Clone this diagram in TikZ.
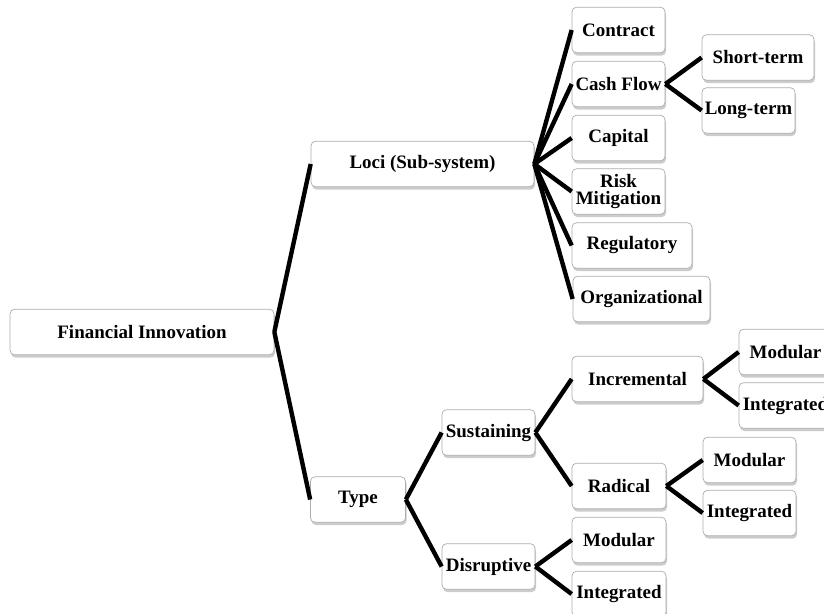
\documentclass[tikz,border=0pt]{standalone}
\usepackage{fontspec}
\setmainfont{Liberation Serif}
\usetikzlibrary{shadows}
\begin{document}
\begin{tikzpicture}[x=0.02cm,y=-0.02cm,
	box/.style={draw=gray!65,rounded corners=2.5pt,fill=white,inner sep=1pt,minimum height=0.91cm,
		font=\fontsize{10.8}{11.5}\selectfont\bfseries,align=center,
		drop shadow={shadow xshift=0.6pt,shadow yshift=-1.6pt,opacity=0.4,fill=gray}},
	link/.style={black,line width=2.5pt}]
	\useasboundingbox (0,0) rectangle (824,613);
	\clip (0,0) rectangle (824,613);
	\node[box,minimum width=5.28cm] (fin) at (142,332) {Financial Innovation};
	\node[box,minimum width=4.46cm] (loci) at (422.5,164) {Loci (Sub-system)};
	\node[box,minimum width=1.90cm] (type) at (358,499.5) {Type};
	\node[box,minimum width=1.86cm] (contract) at (618.5,30) {Contract};
	\node[box,minimum width=1.86cm] (cashflow) at (618.5,84) {Cash Flow};
	\node[box,minimum width=2.24cm] (short) at (758,57.5) {Short-term};
	\node[box,minimum width=1.86cm] (long) at (748.5,110.5) {Long-term};
	\node[box,minimum width=1.86cm] (capital) at (618.5,138) {Capital};
	\node[box,minimum width=1.86cm] (risk) at (618.5,191.5) {Risk\\[-2pt]Mitigation};
	\node[box,minimum width=2.40cm] (regul) at (632,245.5) {Regulatory};
	\node[box,minimum width=2.74cm] (organ) at (641.5,299) {Organizational};
	\node[box,minimum width=1.86cm] (sust) at (488.5,432.5) {Sustaining};
	\node[box,minimum width=1.86cm] (disr) at (488.5,566.5) {Disruptive};
	\node[box,minimum width=2.62cm] (incr) at (637.5,379) {Incremental};
	\node[box,minimum width=1.88cm] (radic) at (619,486) {Radical};
	\node[box,minimum width=1.86cm] (incrmod) at (785.5,352) {Modular};
	\node[box,minimum width=1.86cm] (incrint) at (785.5,405.5) {Integrated};
	\node[box,minimum width=1.86cm] (radicmod) at (749.5,460) {Modular};
	\node[box,minimum width=1.86cm] (radicint) at (749.5,513) {Integrated};
	\node[box,minimum width=1.88cm] (disrmod) at (619,540) {Modular};
	\node[box,minimum width=1.88cm] (disrint) at (619,594) {Integrated};
	\draw[link] (fin.east)--(loci.west);
	\draw[link] (fin.east)--(type.west);
	\draw[link] (loci.east)--(contract.west);
	\draw[link] (loci.east)--(cashflow.west);
	\draw[link] (loci.east)--(capital.west);
	\draw[link] (loci.east)--(risk.west);
	\draw[link] (loci.east)--(regul.west);
	\draw[link] (loci.east)--(organ.west);
	\draw[link] (cashflow.east)--(short.west);
	\draw[link] (cashflow.east)--(long.west);
	\draw[link] (type.east)--(sust.west);
	\draw[link] (type.east)--(disr.west);
	\draw[link] (sust.east)--(incr.west);
	\draw[link] (sust.east)--(radic.west);
	\draw[link] (incr.east)--(incrmod.west);
	\draw[link] (incr.east)--(incrint.west);
	\draw[link] (radic.east)--(radicmod.west);
	\draw[link] (radic.east)--(radicint.west);
	\draw[link] (disr.east)--(disrmod.west);
	\draw[link] (disr.east)--(disrint.west);
\end{tikzpicture}
\end{document}
